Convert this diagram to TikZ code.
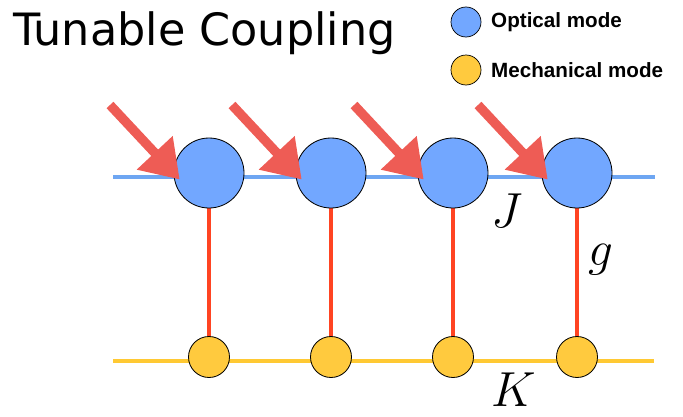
\RequirePackage{fix-cm}
\documentclass[tikz,border=0pt]{standalone}
\usepackage{fontspec}
\newfontfamily\titlefont{DejaVu Sans}
\newfontfamily\legfont{Liberation Sans}
\usepackage{xcolor}
\definecolor{optblue}{HTML}{72A7FF}
\definecolor{optline}{HTML}{6EA6F2}
\definecolor{mechyel}{HTML}{FFCA3E}
\definecolor{mechline}{HTML}{FFC933}
\definecolor{coupred}{HTML}{FF4422}
\definecolor{pumpred}{HTML}{EE5C55}
\usetikzlibrary{arrows.meta,positioning,backgrounds}

\begin{document}
\begin{tikzpicture}[x=0.03cm, y=-0.03cm,
    opt/.style={circle, draw=black, fill=optblue, minimum size=2.1cm, inner sep=0pt, line width=0.7pt},
    mech/.style={circle, draw=black, fill=mechyel, minimum size=1.23cm, inner sep=0pt, line width=0.7pt},
    leg/.style={circle, draw=black, minimum size=0.9cm, inner sep=0pt, line width=0.6pt},
    legtxt/.style={anchor=west, inner sep=0pt, font=\legfont\bfseries\fontsize{17.6}{20}\selectfont},
    coup/.style={draw=coupred, line width=4.2pt},
    pump/.style={draw=pumpred, line width=8pt, -{Triangle[length=1.1cm, width=1.4cm]}, shorten >=-0.27cm},
    sym/.style={inner sep=0pt, font=\fontsize{42}{48}\selectfont},
  ]
    \useasboundingbox (0,0) rectangle (683,416);
    \node[anchor=base west, inner sep=0pt, font=\titlefont\fontsize{38}{44}\selectfont] (title) at (13,45) {Tunable Coupling};
    % Legend
    \node[leg, fill=optblue] (lo) at (466,22) {};
    \node[leg, fill=mechyel] (lm) at (466,70) {};
    \node[legtxt] (lotxt) at (491,22) {Optical mode};
    \node[legtxt] (lmtxt) at (491,70) {Mechanical mode};
    % Chains
    \coordinate (ol) at (113,177);
    \coordinate (or) at (655,177);
    \coordinate (ml) at (113,361);
    \coordinate (mr) at (654,361);
    \node[opt] (o1) at (209,173) {};
    \node[opt] (o2) at (331,173) {};
    \node[opt] (o3) at (453,173) {};
    \node[opt] (o4) at (577,173) {};
    \node[mech] (m1) at (209,357) {};
    \node[mech] (m2) at (331,357) {};
    \node[mech] (m3) at (453,357) {};
    \node[mech] (m4) at (577,357) {};
    \begin{scope}[on background layer]
      \draw[optline, line width=3.4pt] (ol) -- (or);
      \draw[mechline, line width=4.2pt] (ml) -- (mr);
      \draw[coup] (o1.south) -- (m1.north);
      \draw[coup] (o2.south) -- (m2.north);
      \draw[coup] (o3.south) -- (m3.north);
      \draw[coup] (o4.south) -- (m4.north);
    \end{scope}
    % Drive arrows
    \coordinate (a1) at (110,105);
    \coordinate (a2) at (232,105);
    \coordinate (a3) at (354,105);
    \coordinate (a4) at (478,105);
    \draw[pump] (a1) -- (o1.west);
    \draw[pump] (a2) -- (o2.west);
    \draw[pump] (a3) -- (o3.west);
    \draw[pump] (a4) -- (o4.west);
    % Labels
    \node[sym] (J) at (507,211) {$J$};
    \node[sym] (g) at (601,260) {$g$};
    \node[sym] (K) at (514,390) {$K$};
  \end{tikzpicture}
\end{document}
